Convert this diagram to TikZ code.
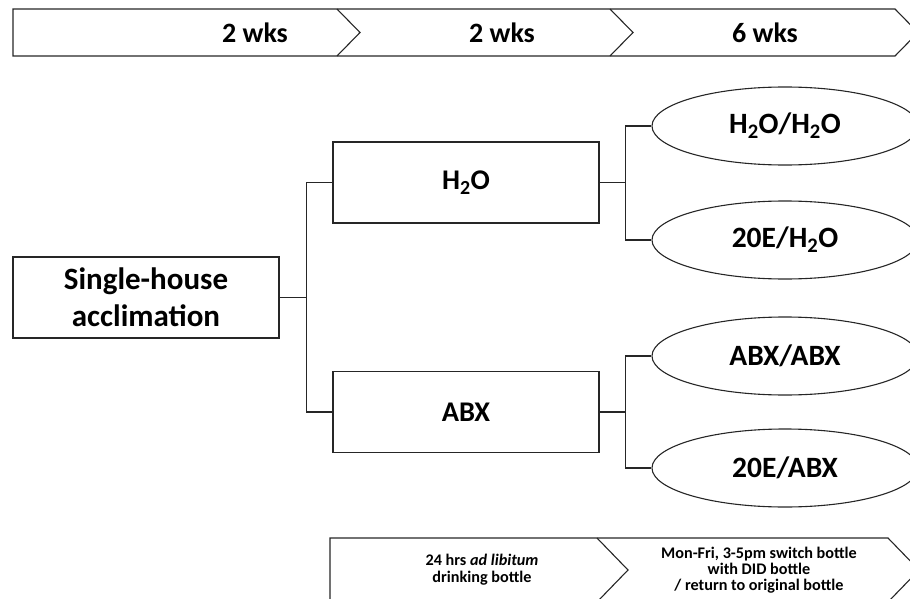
\documentclass[tikz,border=0pt]{standalone}
\usepackage{fontspec}
\setmainfont{Carlito}
\usetikzlibrary{shapes.geometric}
\begin{document}
\begin{tikzpicture}[x=1pt,y=-1pt,
  ln/.style={draw=black!85,line width=1.1pt},
  boxnode/.style={ln,rectangle,minimum width=266pt,minimum height=81pt,inner sep=0pt,align=center},
  ovalnode/.style={ln,ellipse,minimum width=266pt,minimum height=78pt,inner sep=0pt},
  bigtxt/.style={font=\fontsize{28.5}{34}\selectfont\bfseries},
  ovaltxt/.style={font=\fontsize{29.5}{34}\selectfont\bfseries},
  toptxt/.style={font=\fontsize{28}{32}\selectfont\bfseries,inner sep=0pt},
  smalltxt/.style={font=\fontsize{16.2}{17}\selectfont\bfseries,align=center,inner sep=0pt}]
\useasboundingbox (0,0) rectangle (910,599);
\clip (0,0) rectangle (910,599);
% top timeline
\draw[ln,line join=miter] (13,9) -- (895,9) -- (918,32.5) -- (895,56) -- (13,56) -- cycle;
\draw[ln] (337,9) -- (360,32.5) -- (337,56);
\draw[ln] (610,9) -- (633,32.5) -- (610,56);
\node[toptxt] (t1) at (255,33) {2 wks};
\node[toptxt] (t2) at (502,33) {2 wks};
\node[toptxt] (t3) at (765,33) {6 wks};
% boxes
\node[boxnode,font=\fontsize{31}{37}\selectfont\bfseries] (single) at (146,297.5) {Single-house\\acclimation};
\node[boxnode,bigtxt] (h2o) at (466,182.5) {H\textsubscript{2}O};
\node[boxnode,bigtxt] (abx) at (466,412) {ABX};
% ellipses
\node[ovalnode,ovaltxt] (e1) at (785,126) {H\textsubscript{2}O/H\textsubscript{2}O};
\node[ovalnode,ovaltxt] (e2) at (785,240) {20E/H\textsubscript{2}O};
\node[ovalnode,ovaltxt] (e3) at (785,356) {ABX/ABX};
\node[ovalnode,ovaltxt] (e4) at (785,468) {20E/ABX};
% connectors
\draw[ln] (single.east) -- ++(27,0) |- (h2o.west);
\draw[ln] (single.east) -- ++(27,0) |- (abx.west);
\draw[ln] (h2o.east) -- ++(26,0) |- (e1.west);
\draw[ln] (h2o.east) -- ++(26,0) |- (e2.west);
\draw[ln] (abx.east) -- ++(26,0) |- (e3.west);
\draw[ln] (abx.east) -- ++(26,0) |- (e4.west);
% bottom timeline
\draw[ln,line join=miter] (330,538) -- (888,538) -- (919,570) -- (888,602) -- (330,602) -- cycle;
\draw[ln] (597,538) -- (628,570) -- (597,602);
\node[smalltxt] (b1) at (482,570) {24 hrs \textit{ad libitum}\\drinking bottle};
\node[smalltxt,font=\fontsize{16.2}{16.2}\selectfont\bfseries] (b2) at (759,570) {Mon-Fri, 3-5pm switch bottle\\with DID bottle\\/ return to original bottle};
\end{tikzpicture}
\end{document}
